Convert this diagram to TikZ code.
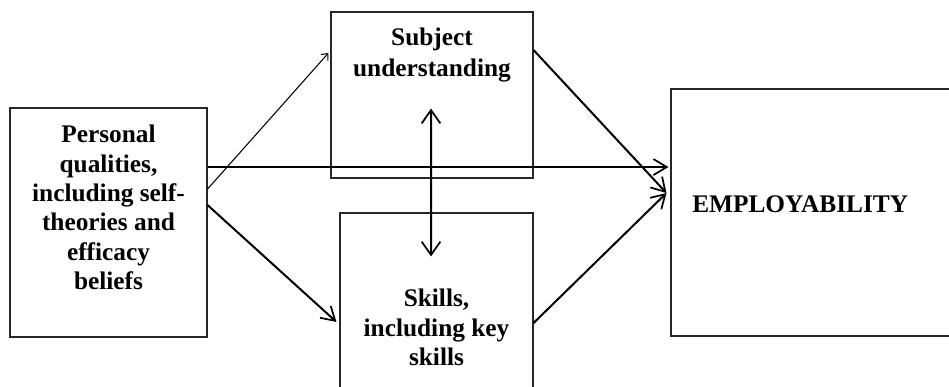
\documentclass[tikz,border=0pt]{standalone}
\usepackage{fontspec}
\setmainfont{Liberation Serif}
\usetikzlibrary{arrows.meta,fit,calc}
\begin{document}
\begin{tikzpicture}[x=0.75pt,y=-0.75pt,
  box/.style={draw=black!85,line width=0.8pt,inner sep=0pt},
  lbl/.style={font=\fontsize{19}{22}\selectfont\bfseries,align=center,inner sep=0pt},
  thick arrow/.style={line width=1.5pt,-{Straight Barb[length=10pt,width=12pt,line width=1.3pt]}},
  thin arrow/.style={line width=0.8pt,-{Straight Barb[length=4pt,width=7pt,line width=0.8pt]}}]
  \clip (0,0) rectangle (949,386);
  % boxes
  \node[box,fit={(10,108) (207,337)}] (pers) {};
  \node[box,fit={(331,12) (533,178)}] (subj) {};
  \node[box,fit={(340,213) (533,420)}] (skil) {};
  \node[box,fit={(671,89) (990,336)}] (empl) {};
  % labels
  \node[lbl,anchor=north] (perst) at (108.5,125) {Personal\\qualities,\\including self-\\theories and\\efficacy\\beliefs};
  \node[lbl,anchor=north,font=\fontsize{19}{23.5}\selectfont\bfseries] (subjt) at (432,27.5) {Subject\\understanding};
  \node[lbl,anchor=north] (skilt) at (436.5,289) {Skills,\\including key\\skills};
  \node[lbl,anchor=base west] (emplt) at (692,212) {EMPLOYABILITY};
  % connectors
  \coordinate (hstart) at ([yshift=41.6pt]pers.east);
  \coordinate (hend) at ([xshift=-1.5pt]hstart -| empl.west);
  \coordinate (meet) at ([xshift=-3pt,yshift=14.6pt]empl.west);
  \draw[thin arrow] ([yshift=25.1pt]pers.east) -- ([xshift=-1.5pt,yshift=31.5pt]subj.west);
  \draw[thick arrow,line width=1.9pt] (hstart) -- (hend);
  \draw[thick arrow] ([yshift=13.1pt]pers.east) -- ([xshift=-2.25pt,yshift=-4.1pt]skil.west);
  \draw[thick arrow] ([yshift=33.75pt]subj.east) -- (meet);
  \draw[thick arrow] ([yshift=-4.9pt]skil.east) -- (meet);
  \draw[line width=1.5pt,{Straight Barb[length=10pt,width=14pt,line width=1.3pt]}-{Straight Barb[length=10pt,width=14pt,line width=1.3pt]}]
    ([xshift=-0.75pt,yshift=52.5pt]subj.south) -- ([xshift=-4.1pt,yshift=-33pt]skil.north);
\end{tikzpicture}
\end{document}
